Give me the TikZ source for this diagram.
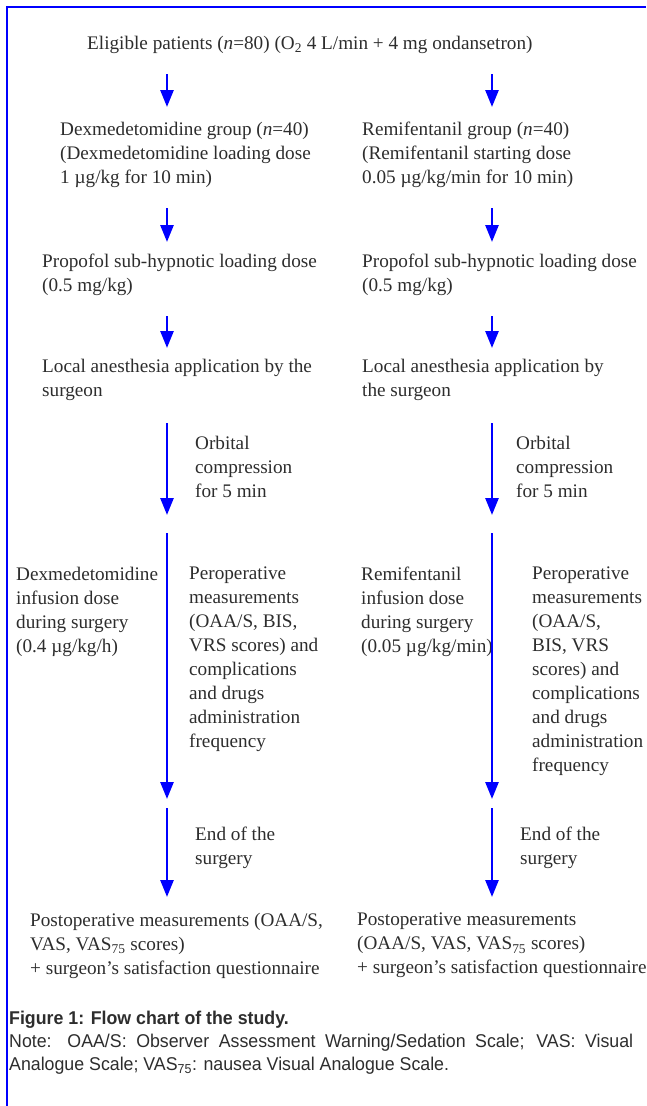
\documentclass[tikz,border=0pt]{standalone}
\usepackage{fontspec}
\setmainfont{Liberation Serif}
\newfontfamily\capfont[FakeStretch=0.96]{Liberation Sans}
\usetikzlibrary{arrows.meta}

\definecolor{inkgray}{RGB}{45,45,45}

\tikzset{
  flow/.style={draw=blue, line width=2.7pt, -{Triangle[length=17pt,width=13pt]}},
  frame/.style={draw=blue, line width=2pt},
  txt/.style={anchor=north west, align=left, inner sep=0pt, text=inkgray,
    font=\fontsize{19.2}{24}\selectfont, execute at begin node=\strut},
  captxt/.style={anchor=north west, align=justify, inner sep=0pt, text width=624pt, text=inkgray,
    font=\capfont\fontsize{18.5}{23}\selectfont, execute at begin node=\strut},
}

\begin{document}
\begin{tikzpicture}[x=1pt, y=-1pt]
\useasboundingbox (0,0) rectangle (646,1106);
\draw[frame] (7,1106) -- (7,7) -- (646,7);

% texts
\node[txt] (title) at (87,32.7) {Eligible patients (\textit{n}=80) (O\textsubscript{2} 4 L/min + 4 mg ondansetron)};

\node[txt] (dexgrp) at (60,121.7) {Dexmedetomidine group (\textit{n}=40)\\(Dexmedetomidine loading dose\\1 µg/kg for 10 min)};
\node[txt] (remgrp) at (362,121.7) {Remifentanil group (\textit{n}=40)\\(Remifentanil starting dose\\0.05 µg/kg/min for 10 min)};

\node[txt] (dexprop) at (42,253.7) {Propofol sub-hypnotic loading dose\\(0.5 mg/kg)};
\node[txt] (remprop) at (362,253.7) {Propofol sub-hypnotic loading dose\\(0.5 mg/kg)};

\node[txt] (dexloc) at (42,358.7) {Local anesthesia application by the\\surgeon};
\node[txt] (remloc) at (362,358.7) {Local anesthesia application by\\the surgeon};

\node[txt] (dexorb) at (195,435.7) {Orbital\\compression\\for 5 min};
\node[txt] (remorb) at (516,435.7) {Orbital\\compression\\for 5 min};

\node[txt] (dexinf) at (16,566.7) {Dexmedetomidine\\infusion dose\\during surgery\\(0.4 µg/kg/h)};
\node[txt] (dexper) at (189,566.7) {Peroperative\\measurements\\(OAA/S, BIS,\\VRS scores) and\\complications\\and drugs\\administration\\frequency};
\node[txt] (reminf) at (361,566.7) {Remifentanil\\infusion dose\\during surgery\\(0.05 µg/kg/min)};
\node[txt] (remper) at (532,566.7) {Peroperative\\measurements\\(OAA/S,\\BIS, VRS\\scores) and\\complications\\and drugs\\administration\\frequency};

\node[txt] (dexend) at (195,826.7) {End of the\\surgery};
\node[txt] (remend) at (520,826.7) {End of the\\surgery};

\node[txt] (dexpost) at (30,913) {Postoperative measurements (OAA/S,\\VAS, VAS\textsubscript{75} scores)\\+ surgeon’s satisfaction questionnaire};
\node[txt] (rempost) at (357,913) {Postoperative measurements\\(OAA/S, VAS, VAS\textsubscript{75} scores)\\+ surgeon’s satisfaction questionnaire};

\node[captxt] (caption) at (9,1008) {{\bfseries Figure 1: Flow chart of the study.}\\
Note: OAA/S: Observer Assessment Warning/Sedation Scale; VAS: Visual\linebreak
Analogue Scale; VAS\textsubscript{75}: nausea Visual Analogue Scale.};

% arrows, left column
\coordinate (l1) at (167,74);  \coordinate (l2) at (167,107);
\coordinate (l3) at (167,208); \coordinate (l4) at (167,242);
\coordinate (l5) at (167,316); \coordinate (l6) at (167,348);
\coordinate (l7) at (167,423); \coordinate (l8) at (167,515);
\coordinate (l9) at (167,533); \coordinate (l10) at (167,799);
\coordinate (l11) at (167,808); \coordinate (l12) at (167,897);
% arrows, right column
\coordinate (r1) at (492,74);  \coordinate (r2) at (492,107);
\coordinate (r3) at (492,208); \coordinate (r4) at (492,242);
\coordinate (r5) at (492,316); \coordinate (r6) at (492,348);
\coordinate (r7) at (492,423); \coordinate (r8) at (492,515);
\coordinate (r9) at (492,533); \coordinate (r10) at (492,799);
\coordinate (r11) at (492,808); \coordinate (r12) at (492,897);

\draw[flow] (l1) -- (l2);
\draw[flow] (l3) -- (l4);
\draw[flow] (l5) -- (l6);
\draw[flow] (l7) -- (l8);
\draw[flow] (l9) -- (l10);
\draw[flow] (l11) -- (l12);

\draw[flow] (r1) -- (r2);
\draw[flow] (r3) -- (r4);
\draw[flow] (r5) -- (r6);
\draw[flow] (r7) -- (r8);
\draw[flow] (r9) -- (r10);
\draw[flow] (r11) -- (r12);
\end{tikzpicture}
\end{document}
